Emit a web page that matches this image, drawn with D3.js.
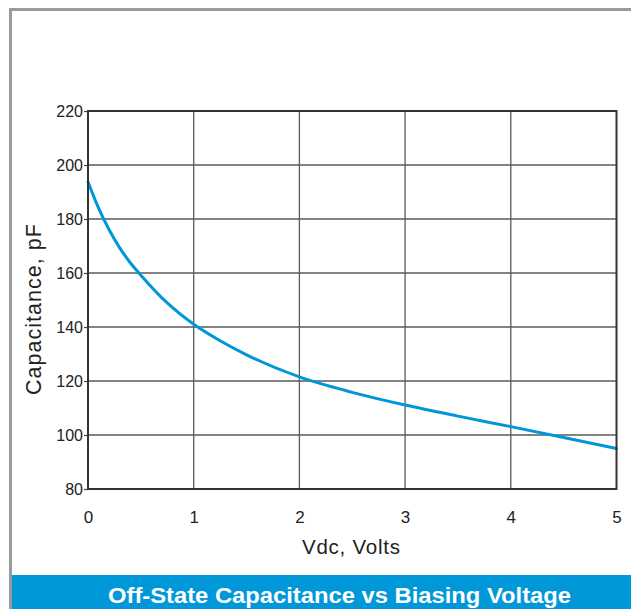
<!DOCTYPE html>
<html>
<head>
<meta charset="utf-8">
<script src="https://cdn.jsdelivr.net/npm/d3@7/dist/d3.min.js"></script>
<style>
  html, body { margin: 0; padding: 0; background: #fff; }
  svg { display: block; }
</style>
</head>
<body>
<svg id="chart" width="631" height="609"></svg>
<script>
// Data
const voltage     = [0, 0.1, 0.2, 0.3, 0.4, 0.5, 0.75, 1.0, 1.25, 1.5, 2.0, 2.5, 3.0, 3.5, 4.0, 4.5, 5.0];
const capacitance = [193.8, 184.0, 176.0, 169.3, 163.8, 159.2, 148.9, 141.0, 134.9, 129.7, 121.5, 115.8, 111.1, 107.0, 103.1, 99.1, 95.0];
const xTicks = [0, 1, 2, 3, 4, 5];
const yTicks = [80, 100, 120, 140, 160, 180, 200, 220];
const xTitle = "Vdc, Volts";
const yTitle = "Capacitance, pF";
const chartTitle = "Off-State Capacitance vs Biasing Voltage";

(function () {
const svg = d3.select("#chart");
const W = 631, H = 609;
const pLeft = 88, pRight = 616.5, pTop = 111, pBottom = 489;

const x = d3.scaleLinear().domain([0, 5]).range([pLeft, pRight]);
const y = d3.scaleLinear().domain([80, 220]).range([pBottom, pTop]);

const font = "'Liberation Sans', Arial, Helvetica, sans-serif";

// Outer frame
svg.append("path")
  .attr("d", `M10.5,${H} L10.5,9.5 L${W},9.5`)
  .attr("fill", "none")
  .attr("stroke", "#9a9a9a")
  .attr("stroke-width", 3);

// Grid lines
const grid = svg.append("g");
grid.selectAll("line.v").data(xTicks.slice(1, -1)).join("line")
  .attr("class", "v")
  .attr("x1", d => x(d)).attr("x2", d => x(d))
  .attr("y1", pTop).attr("y2", pBottom)
  .attr("stroke", "#5a5a5a").attr("stroke-width", 1.3);
grid.selectAll("line.h").data(yTicks.slice(1, -1)).join("line")
  .attr("class", "h")
  .attr("x1", pLeft).attr("x2", pRight)
  .attr("y1", d => y(d)).attr("y2", d => y(d))
  .attr("stroke", "#5a5a5a").attr("stroke-width", 1.3);

// Y axis (ticks + labels)
const yAxis = d3.axisLeft(y).tickValues(yTicks).tickSize(4).tickPadding(1);
const gy = svg.append("g").attr("transform", `translate(${pLeft},0)`).call(yAxis);
gy.select(".domain").remove();
gy.selectAll(".tick line").attr("stroke", "#444").attr("stroke-width", 1.2);
gy.selectAll(".tick text")
  .attr("font-family", font).attr("font-size", 16).attr("fill", "#222");

// X axis labels
const xAxis = d3.axisBottom(x).tickValues(xTicks).tickSize(0).tickPadding(22).tickFormat(d3.format("d"));
const gx = svg.append("g").attr("transform", `translate(0,${pBottom})`).call(xAxis);
gx.select(".domain").remove();
gx.selectAll(".tick text")
  .attr("font-family", font).attr("font-size", 17).attr("fill", "#222");

// Curve
const line = d3.line().x((d, i) => x(voltage[i])).y(d => y(d)).curve(d3.curveMonotoneX);
svg.append("path")
  .datum(capacitance)
  .attr("d", line)
  .attr("fill", "none")
  .attr("stroke", "#0097d9")
  .attr("stroke-width", 3)
  .attr("stroke-linecap", "round");

// Plot frame
svg.append("rect")
  .attr("x", pLeft).attr("y", pTop)
  .attr("width", pRight - pLeft).attr("height", pBottom - pTop)
  .attr("fill", "none")
  .attr("stroke", "#333").attr("stroke-width", 2);

// Axis titles
svg.append("text")
  .attr("x", 351).attr("y", 554)
  .attr("text-anchor", "middle")
  .attr("font-family", font).attr("font-size", 20.5).attr("fill", "#222")
  .attr("textLength", 98).attr("lengthAdjust", "spacing")
  .text(xTitle);

svg.append("text")
  .attr("transform", `translate(40.5,309.5) rotate(-90)`)
  .attr("text-anchor", "middle")
  .attr("font-family", font).attr("font-size", 21.5).attr("fill", "#222")
  .attr("textLength", 171).attr("lengthAdjust", "spacing")
  .text(yTitle);

// Bottom banner
svg.append("rect")
  .attr("x", 12).attr("y", 575)
  .attr("width", W - 12).attr("height", H - 575)
  .attr("fill", "#0098d8");
svg.append("text")
  .attr("x", 339.5).attr("y", 602.5)
  .attr("text-anchor", "middle")
  .attr("font-family", font).attr("font-weight", "bold")
  .attr("font-size", 22).attr("fill", "#fff")
  .attr("textLength", 463).attr("lengthAdjust", "spacingAndGlyphs")
  .text(chartTitle);
})();
</script>
</body>
</html>
